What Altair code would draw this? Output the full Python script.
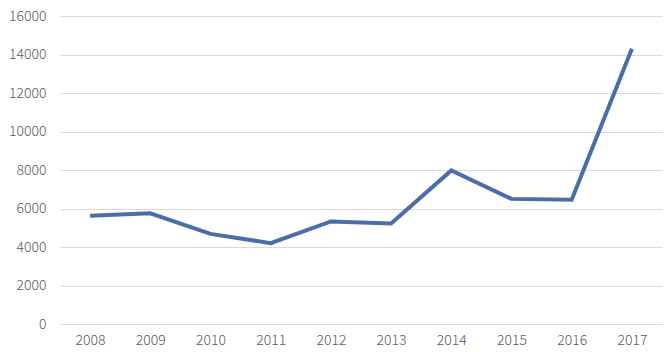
import altair as alt
import pandas as pd

years = ["2008", "2009", "2010", "2011", "2012", "2013", "2014", "2015", "2016", "2017"]
values = [5620, 5750, 4680, 4200, 5330, 5220, 7980, 6500, 6450, 14300]

df = pd.DataFrame({"year": years, "value": values})

font = "Noto Sans CJK SC"

chart = alt.Chart(df).mark_line(color="#4a6fa8", strokeWidth=4, strokeJoin="miter").encode(
    x=alt.X("year:O", sort=years,
            scale=alt.Scale(type="point", padding=0.5),
            axis=alt.Axis(title=None, labelAngle=0, domain=False, ticks=False, grid=False,
                          labelPadding=9, labelFontSize=14, labelColor="#595959",
                          labelFont=font, labelFontWeight=300)),
    y=alt.Y("value:Q",
            scale=alt.Scale(domain=[0, 16000], nice=False),
            axis=alt.Axis(title=None, values=list(range(0, 16001, 2000)), format="d",
                          domain=False, ticks=False,
                          gridColor="#d9d9d9", gridWidth=1, labelPadding=14, labelFontSize=14,
                          labelColor="#595959", labelFont=font, labelFontWeight=300)),
).properties(
    width=602, height=308,
    background="white",
    autosize=alt.AutoSizeParams(type="none"),
    padding={"left": 60, "top": 16, "right": 5, "bottom": 28},
).configure_view(stroke="#ffffff", strokeOpacity=0, strokeWidth=0)

chart.save("out.html", embed_options={"renderer": "svg", "actions": False})
